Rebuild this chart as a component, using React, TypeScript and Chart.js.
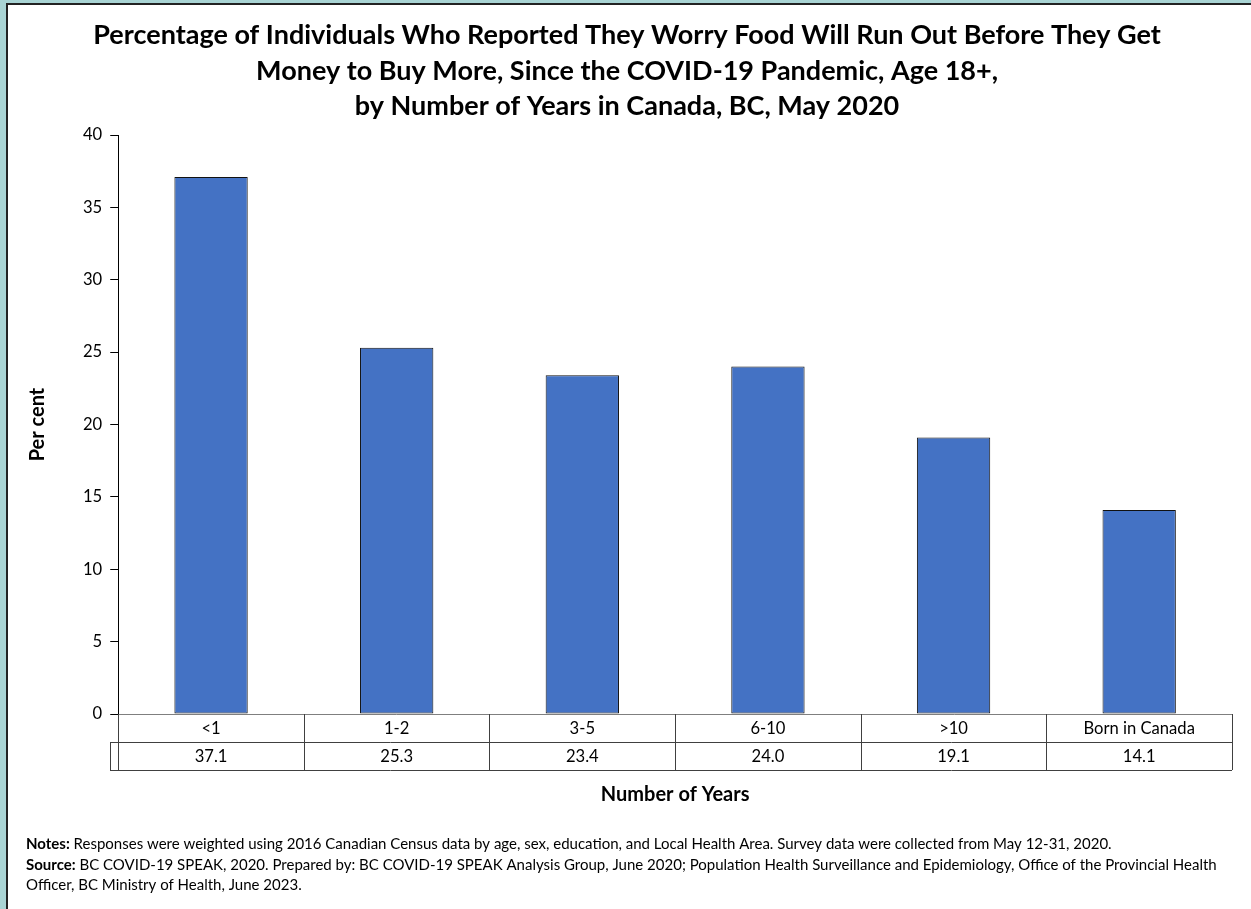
import React, { useEffect, useRef } from "react";
import { Chart, registerables } from "chart.js";

Chart.register(...registerables);

const FONT = "Lato, 'Open Sans', sans-serif";

const titleLines = [
  "Percentage of Individuals Who Reported They Worry Food Will Run Out Before They Get",
  "Money to Buy More, Since the COVID-19 Pandemic, Age 18+,",
  "by Number of Years in Canada, BC, May 2020",
];
const categories = ["<1", "1-2", "3-5", "6-10", ">10", "Born in Canada"];
const values = [37.1, 25.3, 23.4, 24.0, 19.1, 14.1];
const yMin = 0;
const yMax = 40;
const yStep = 5;
const xTitle = "Number of Years";
const yTitle = "Per cent";
const noteLines: { bold: string; text: string }[] = [
  {
    bold: "Notes:",
    text: " Responses were weighted using 2016 Canadian Census data by age, sex, education, and Local Health Area. Survey data were collected from May 12-31, 2020.",
  },
  {
    bold: "Source:",
    text: " BC COVID-19 SPEAK, 2020. Prepared by: BC COVID-19 SPEAK Analysis Group, June 2020; Population Health Surveillance and Epidemiology, Office of the Provincial Health",
  },
  { bold: "", text: "Officer, BC Ministry of Health, June 2023." },
];

const tablePlugin = {
  id: "dataTable",
  afterDraw(chart: any) {
    const { ctx, chartArea, scales } = chart;
    const x = scales.x;
    const n = categories.length;
    const half = (x.getPixelForValue(1) - x.getPixelForValue(0)) / 2;
    const top = chartArea.bottom;
    const rowH = 28;
    ctx.save();
    ctx.strokeStyle = "#404040";
    ctx.lineWidth = 1;
    const line = (x1: number, y1: number, x2: number, y2: number) => {
      ctx.beginPath();
      ctx.moveTo(x1, y1);
      ctx.lineTo(x2, y2);
      ctx.stroke();
    };
    const keyLeft = Math.round(chartArea.left - 8);
    line(keyLeft, top + rowH + 0.5, chartArea.right, top + rowH + 0.5);
    line(keyLeft, top + 2 * rowH + 0.5, chartArea.right, top + 2 * rowH + 0.5);
    line(keyLeft + 0.5, top + rowH, keyLeft + 0.5, top + 2 * rowH);
    for (let i = 0; i <= n; i++) {
      const xb = Math.round(i < n ? x.getPixelForValue(i) - half : x.getPixelForValue(n - 1) + half) + 0.5;
      line(xb, top, xb, top + 2 * rowH);
    }
    ctx.fillStyle = "#000";
    ctx.font = `16.6px ${FONT}`;
    ctx.textAlign = "center";
    ctx.textBaseline = "middle";
    for (let i = 0; i < n; i++) {
      const cx = x.getPixelForValue(i);
      ctx.fillText(categories[i], cx, top + rowH / 2 + 1);
      ctx.fillText(values[i].toFixed(1), cx, top + rowH * 1.5 + 1);
    }
    // notes
    ctx.textAlign = "left";
    const noteY = [844, 865, 885];
    noteLines.forEach((ln, i) => {
      let cx = 26;
      if (ln.bold) {
        ctx.font = `bold 15px ${FONT}`;
        ctx.fillText(ln.bold, cx, noteY[i]);
        cx += ctx.measureText(ln.bold).width;
      }
      ctx.font = `15px ${FONT}`;
      ctx.fillText(ln.text, cx, noteY[i]);
    });
    ctx.restore();
  },
};

export default function App() {
  const ref = useRef<HTMLCanvasElement | null>(null);
  useEffect(() => {
    if (!ref.current) return;
    const chart = new Chart(ref.current, {
      type: "bar",
      data: {
        labels: categories,
        datasets: [
          {
            data: values,
            backgroundColor: "#4472C4",
            borderColor: "#111",
            borderWidth: 1,
            borderSkipped: false,
            barPercentage: 0.395,
            categoryPercentage: 1,
          },
        ],
      },
      options: {
        responsive: false,
        animation: false,
        layout: { padding: { left: 22, right: 19, top: 18, bottom: 102 } },
        plugins: {
          legend: { display: false },
          tooltip: { enabled: false },
          title: {
            display: true,
            text: titleLines,
            color: "#000",
            font: { family: FONT, size: 27, weight: "bold", lineHeight: 1.315 },
            padding: { top: 0, bottom: 10.5 },
          },
        },
        scales: {
          x: {
            grid: { display: true, drawOnChartArea: false, drawTicks: false },
            border: { display: true, color: "#7f7f7f", width: 1 },
            ticks: { display: false },
            title: {
              display: true,
              text: xTitle,
              color: "#000",
              font: { family: FONT, size: 20, weight: "bold" },
              padding: { top: 69, bottom: 0 },
            },
          },
          y: {
            min: yMin,
            max: yMax,
            grid: { display: true, drawOnChartArea: false, drawTicks: true, tickLength: 8, color: "#000" },
            border: { display: true, color: "#000", width: 1 },
            ticks: {
              stepSize: yStep,
              padding: 8,
              color: "#000",
              font: { family: FONT, size: 16.6 },
            },
            title: {
              display: true,
              text: yTitle,
              color: "#000",
              font: { family: FONT, size: 20, weight: "bold" },
              padding: { top: 4, bottom: 25 },
            },
          },
        },
      },
      plugins: [tablePlugin],
    });
    return () => chart.destroy();
  }, []);

  return (
    <div style={{ position: "fixed", left: 0, top: 0, width: 1251, height: 909, background: "#A9D4D4", overflow: "hidden" }}>
      <div
        style={{
          position: "absolute",
          left: 6,
          top: 3,
          width: 1260,
          height: 920,
          background: "#fff",
          border: "2px solid #222",
          boxSizing: "border-box",
        }}
      />
      <canvas ref={ref} width={1251} height={909} style={{ position: "absolute", left: 0, top: 0, width: 1251, height: 909 }} />
    </div>
  );
}
